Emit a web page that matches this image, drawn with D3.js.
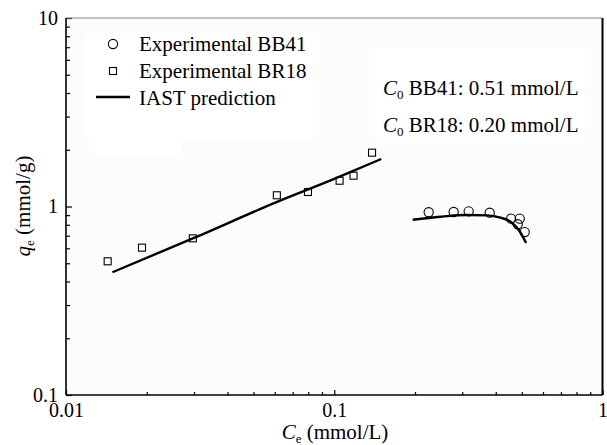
<!DOCTYPE html>
<html><head><meta charset="utf-8">
<script src="https://cdn.jsdelivr.net/npm/d3@7"></script>
<style>body{margin:0;background:#fff}svg{display:block}</style>
</head><body>
<svg id="c" width="607" height="445" font-family="'Liberation Serif', 'Times New Roman', Times, serif"></svg>
<script>
// Data
const br18Ce = [0.0143, 0.0192, 0.0297, 0.0611, 0.0798, 0.1047, 0.118, 0.1383];
const br18Qe = [0.512, 0.605, 0.678, 1.147, 1.194, 1.370, 1.457, 1.930];
const bb41Ce = [0.2249, 0.2787, 0.3170, 0.3798, 0.4563, 0.4914, 0.4831, 0.5129];
const bb41Qe = [0.932, 0.935, 0.943, 0.927, 0.862, 0.862, 0.805, 0.732];
const iastBR18Ce = [0.0149, 0.03, 0.06, 0.1, 0.1497];
const iastBR18Qe = [0.448, 0.681, 1.045, 1.40, 1.786];
const iastBB41Ce = [0.196, 0.2486, 0.3117, 0.3717, 0.4167, 0.4538, 0.4875, 0.519];
const iastBB41Qe = [0.851, 0.883, 0.901, 0.897, 0.872, 0.831, 0.750, 0.640];
const xMajor = [0.01, 0.1, 1];
const yMajor = [0.1, 1, 10];
const xTickLabels = ["0.01", "0.1", "1"];
const yTickLabels = ["0.1", "1", "10"];
const legendLabels = ["Experimental BB41", "Experimental BR18", "IAST prediction"];

const FONT = "'Liberation Serif', 'Times New Roman', Times, serif";
const svg = d3.select("#c");
const L = 66, R = 602.5, T = 18, B = 395;
const x = d3.scaleLog().domain([0.01, 1]).range([L, R]);
const y = d3.scaleLog().domain([0.1, 10]).range([B, T]);

const minors = (maj) => { const m = []; for (let i = 0; i < maj.length - 1; i++) for (let k = 2; k <= 9; k++) m.push(maj[i] * k); return m; };

svg.append("rect").attr("x", L).attr("y", T).attr("width", R - L).attr("height", B - T).attr("fill", "#fcfcfc");
svg.append("rect").attr("x", 86).attr("y", 33).attr("width", 227).attr("height", 106).attr("fill", "#fff");
svg.append("rect").attr("x", 95).attr("y", 139).attr("width", 87).attr("height", 16).attr("fill", "#fff");
svg.append("rect").attr("x", 375).attr("y", 48).attr("width", 210).attr("height", 90).attr("fill", "#fff");

// axes
const gx = svg.append("g").attr("transform", `translate(0,${B})`);
gx.call(d3.axisBottom(x).tickValues(minors(xMajor)).tickSize(-3).tickFormat(""));
const gx2 = svg.append("g").attr("transform", `translate(0,${B})`);
gx2.call(d3.axisBottom(x).tickValues(xMajor).tickSize(-5).tickPadding(8).tickFormat((d, i) => xTickLabels[i]));
const gy = svg.append("g").attr("transform", `translate(${L},0)`);
gy.call(d3.axisLeft(y).tickValues(minors(yMajor)).tickSize(-4).tickFormat(""));
const gy2 = svg.append("g").attr("transform", `translate(${L},0)`);
gy2.call(d3.axisLeft(y).tickValues(yMajor).tickSize(-6).tickPadding(8).tickFormat((d, i) => yTickLabels[i]));
svg.selectAll("g").attr("font-family", FONT).attr("font-size", 20);
svg.selectAll(".domain").remove();
svg.selectAll(".tick line").attr("stroke", "#000").attr("stroke-width", 1.2);
svg.selectAll(".tick text").attr("font-family", FONT).attr("font-size", 20).attr("fill", "#000");

// frame
svg.append("line").attr("x1", L).attr("x2", R).attr("y1", T).attr("y2", T).attr("stroke", "#8a8a8a").attr("stroke-width", 1.2);
svg.append("line").attr("x1", R).attr("x2", R).attr("y1", T).attr("y2", B).attr("stroke", "#000").attr("stroke-width", 2);
svg.append("line").attr("x1", L).attr("x2", L).attr("y1", T).attr("y2", B).attr("stroke", "#000").attr("stroke-width", 1.6);
svg.append("line").attr("x1", L).attr("x2", R).attr("y1", B).attr("y2", B).attr("stroke", "#000").attr("stroke-width", 1.6);

// lines
const line = d3.line().x(d => x(d[0])).y(d => y(d[1])).curve(d3.curveMonotoneX);
svg.append("path").attr("d", line(iastBR18Ce.map((c, i) => [c, iastBR18Qe[i]]))).attr("fill", "none").attr("stroke", "#000").attr("stroke-width", 2.4);
svg.append("path").attr("d", line(iastBB41Ce.map((c, i) => [c, iastBB41Qe[i]]))).attr("fill", "none").attr("stroke", "#000").attr("stroke-width", 2.4);

// markers
const sq = 7;
svg.selectAll(".sq").data(br18Ce).enter().append("rect")
  .attr("x", d => x(d) - sq / 2).attr("y", (d, i) => y(br18Qe[i]) - sq / 2)
  .attr("width", sq).attr("height", sq).attr("fill", "none").attr("stroke", "#000").attr("stroke-width", 1.1);
svg.selectAll(".ci").data(bb41Ce).enter().append("circle")
  .attr("cx", d => x(d)).attr("cy", (d, i) => y(bb41Qe[i])).attr("r", 4.6)
  .attr("fill", "none").attr("stroke", "#000").attr("stroke-width", 1.1);

// legend
const lg = svg.append("g");
lg.append("circle").attr("cx", 113).attr("cy", 44).attr("r", 4.6).attr("fill", "none").attr("stroke", "#000").attr("stroke-width", 1.1);
lg.append("rect").attr("x", 113 - sq / 2).attr("y", 71 - sq / 2).attr("width", sq).attr("height", sq).attr("fill", "none").attr("stroke", "#000").attr("stroke-width", 1.1);
lg.append("line").attr("x1", 96).attr("x2", 130).attr("y1", 97).attr("y2", 97).attr("stroke", "#000").attr("stroke-width", 2.4);
legendLabels.forEach((t, i) => lg.append("text").attr("x", 139).attr("y", 51 + 27 * i)
  .attr("font-family", FONT).attr("font-size", 21).text(t));

// annotation
function c0(yy, rest) {
  const t = svg.append("text").attr("x", 383).attr("y", yy).attr("font-family", FONT).attr("font-size", 21);
  t.append("tspan").attr("font-style", "italic").text("C");
  t.append("tspan").attr("dy", 4).attr("font-size", 13).text("0");
  t.append("tspan").attr("dy", -4).text(" " + rest);
}
c0(95, "BB41: 0.51 mmol/L");
c0(132, "BR18: 0.20 mmol/L");

// axis titles
const xt = svg.append("text").attr("x", 335).attr("y", 439).attr("text-anchor", "middle").attr("font-family", FONT).attr("font-size", 21);
xt.append("tspan").attr("font-style", "italic").text("C");
xt.append("tspan").attr("dy", 4).attr("font-size", 13).text("e");
xt.append("tspan").attr("dy", -4).text(" (mmol/L)");
const yt = svg.append("text").attr("transform", "translate(30,206) rotate(-90)").attr("text-anchor", "middle").attr("font-family", FONT).attr("font-size", 21);
yt.append("tspan").attr("font-style", "italic").text("q");
yt.append("tspan").attr("dy", 4).attr("font-size", 13).text("e");
yt.append("tspan").attr("dy", -4).text(" (mmol/g)");
</script>
</body></html>
